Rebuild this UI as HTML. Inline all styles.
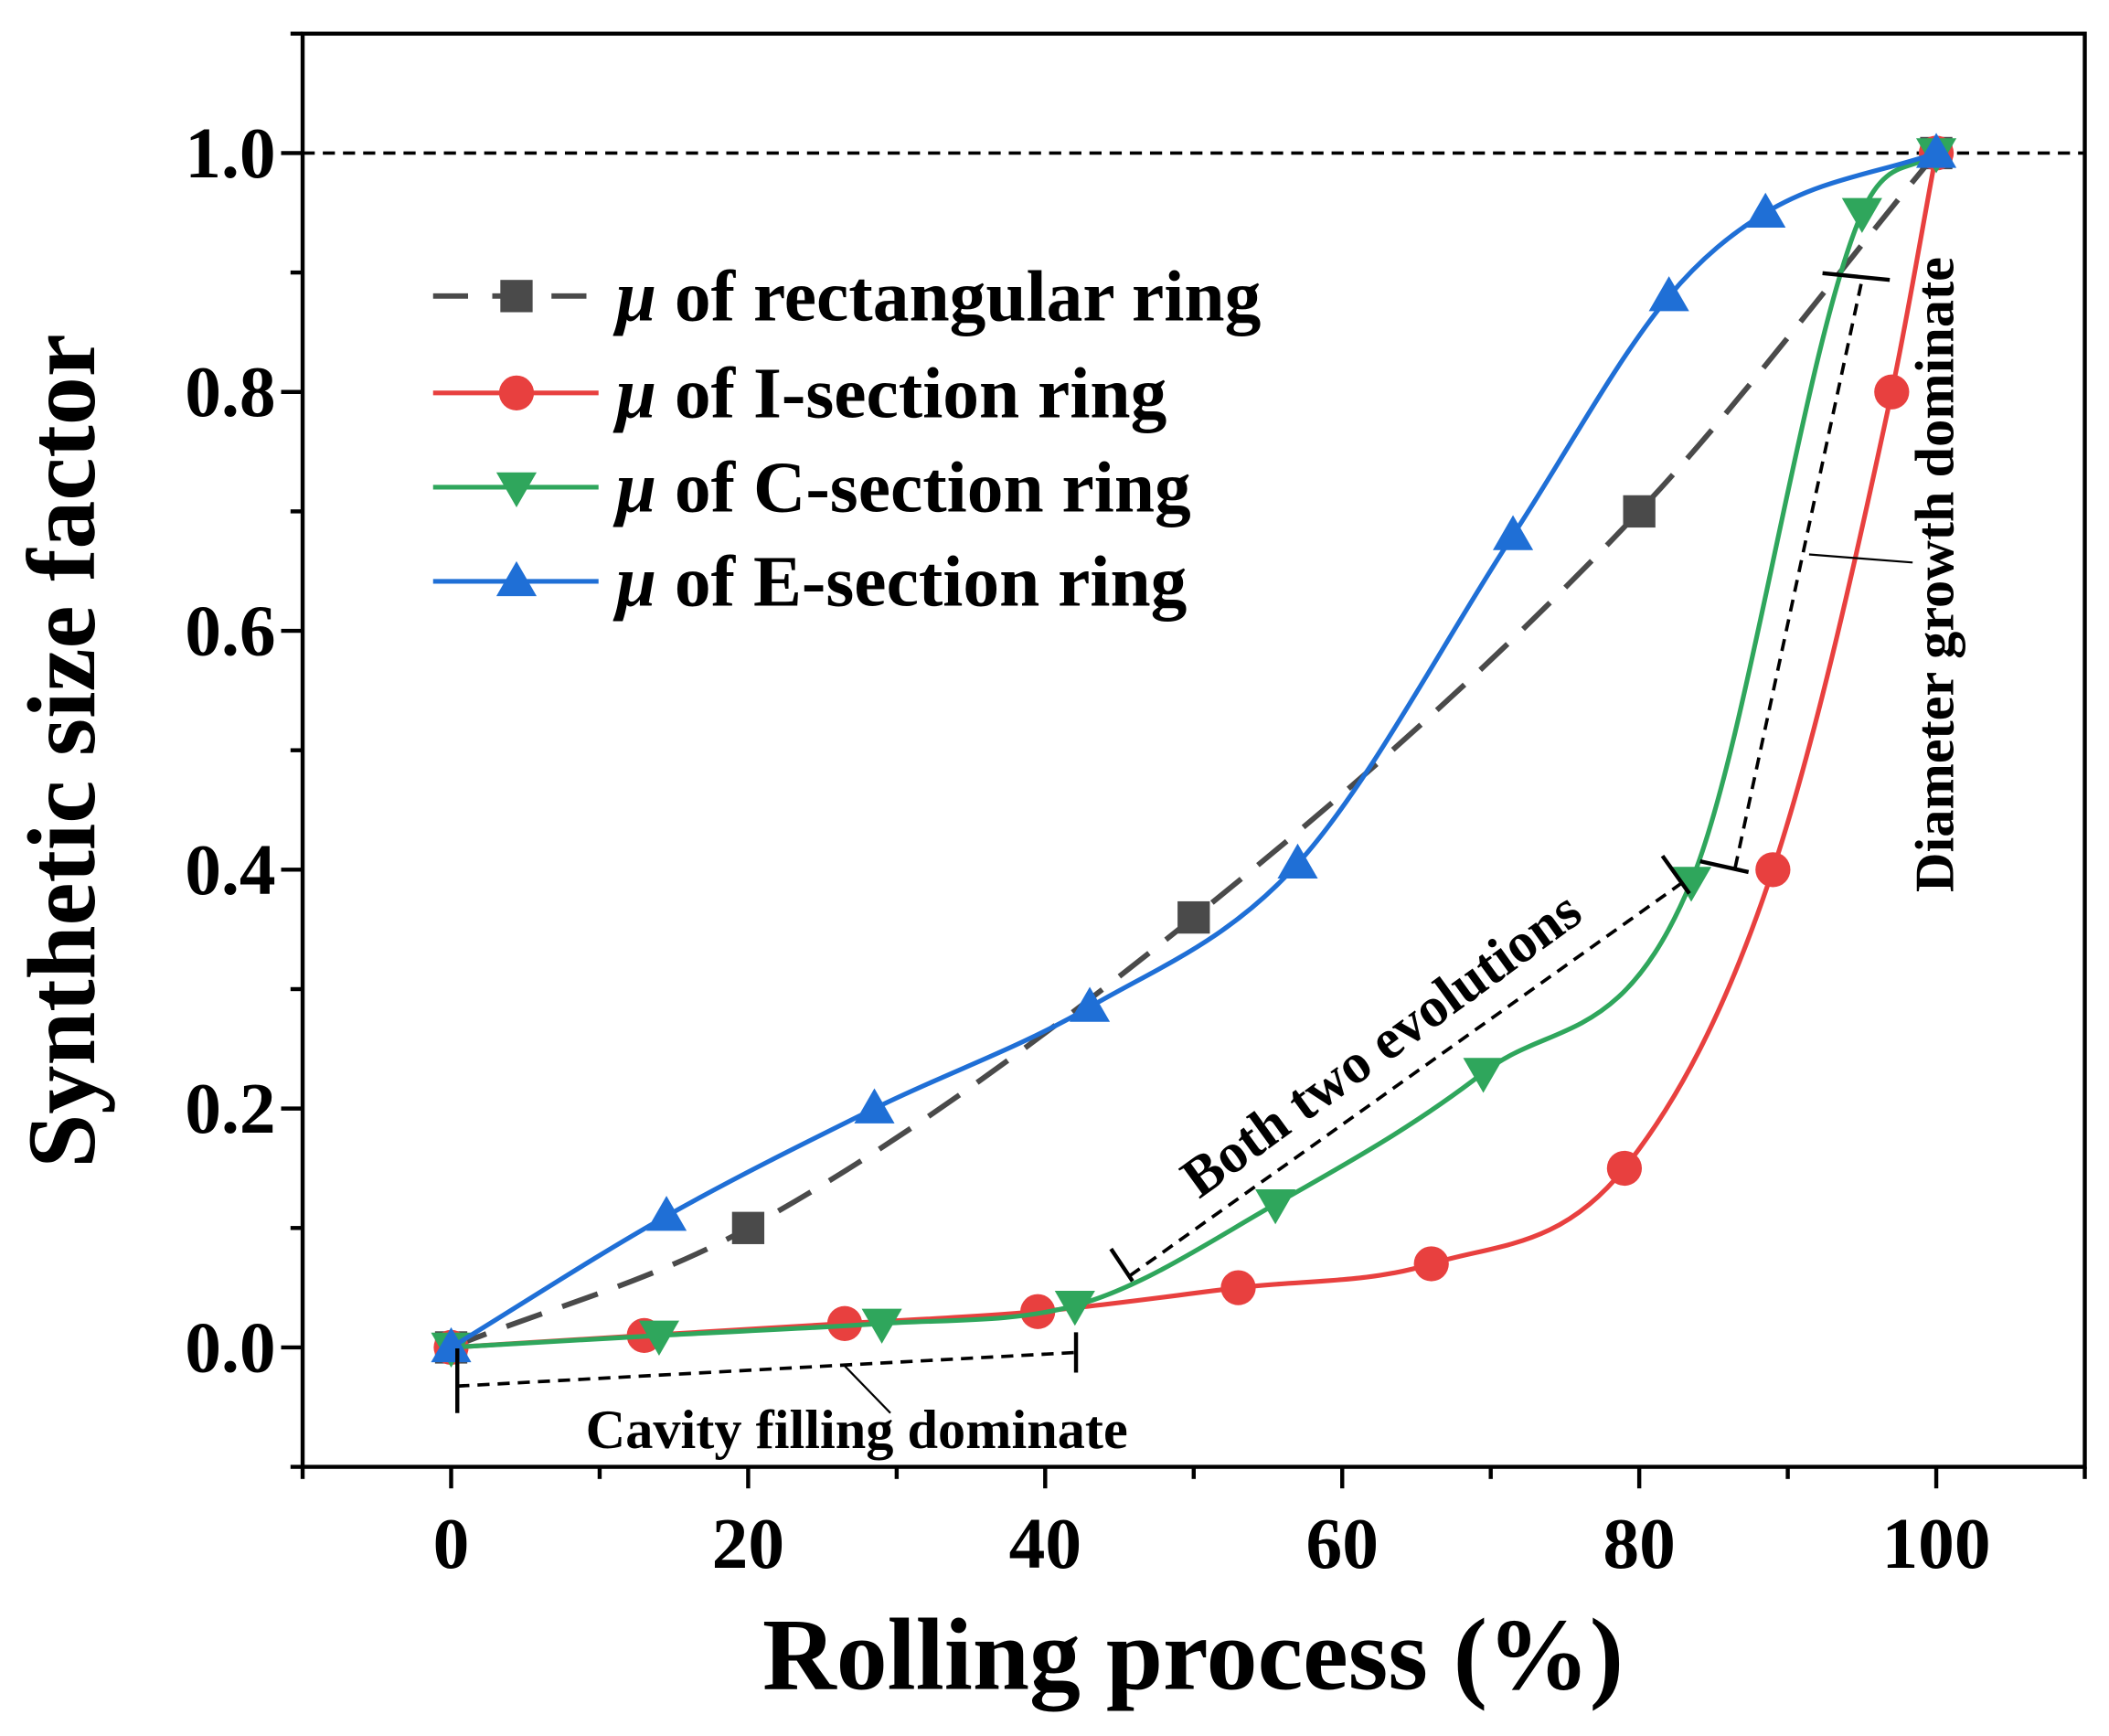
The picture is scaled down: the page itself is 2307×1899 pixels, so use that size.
<!DOCTYPE html>
<html><head><meta charset="utf-8"><style>
html,body{margin:0;padding:0;background:#fff;}
svg{display:block;font-family:"Liberation Serif",serif;font-weight:bold;}
</style></head><body>
<svg id="chart" width="2307" height="1899" viewBox="0 0 1568 1290" preserveAspectRatio="none" xmlns="http://www.w3.org/2000/svg">
<g id="plot"></g>
</svg>
<script>
const xTicks=[0,20,40,60,80,100];
const yTicks=[0.0,0.2,0.4,0.6,0.8,1.0];
const yTickLabels=["0.0","0.2","0.4","0.6","0.8","1.0"];
const rectX=[0,20,50,80,100];
const rectY=[0,0.1,0.36,0.7,1.0];
const iX=[0,13,26.5,39.5,53,66,79,89,97,100];
const iY=[0,0.01,0.02,0.03,0.05,0.07,0.15,0.4,0.8,1.0];
const cX=[0,14,29,42,55.5,69.5,83.5,95,100];
const cY=[0,0.01,0.02,0.035,0.12,0.23,0.39,0.95,1.0];
const eX=[0,14.5,28.5,43,57,71.5,82,88.5,100];
const eY=[0,0.11,0.2,0.285,0.405,0.68,0.88,0.95,1.0];

const L=225,R=1550,T=25,B=1090;
const X0=-10,X1=110,Y0=-0.1,Y1=1.1;
const sx=v=>L+(v-X0)/(X1-X0)*(R-L);
const sy=v=>B-(v-Y0)/(Y1-Y0)*(B-T);
const NS="http://www.w3.org/2000/svg";
const g=document.getElementById('plot');
function mk(tag,attrs,parent){const e=document.createElementNS(NS,tag);for(const k in attrs)e.setAttribute(k,attrs[k]);(parent||g).appendChild(e);return e;}

const frame=mk('rect',{x:L,y:T,width:R-L,height:B-T,fill:'none',stroke:'#000','stroke-width':3});


for(let v=-10;v<=110;v+=10){
  const major=v%20===0&&v>=0&&v<=100;
  const t=mk('line',{x1:sx(v),x2:sx(v),y1:B,y2:B+(major?16:9),stroke:'#000','stroke-width':3});
  
  
}
xTicks.forEach(v=>{
  const t=mk('text',{x:sx(v),y:1165,'text-anchor':'middle','font-size':54});
  t.textContent=v;
  
  
});
for(let k=-1;k<=11;k++){
  const v=k/10;const major=k%2===0&&k>=0&&k<=10;
  const t=mk('line',{x1:L,x2:L-(major?16:9),y1:sy(v),y2:sy(v),stroke:'#000','stroke-width':3});
  
  
}
yTicks.forEach((v,i)=>{
  const t=mk('text',{x:205,y:sy(v)+18,'text-anchor':'end','font-size':54});
  t.textContent=yTickLabels[i];
  
  
});
let at=mk('text',{x:887,y:1255,'text-anchor':'middle','font-size':76});
at.textContent='Rolling process (%)';


at=mk('text',{x:0,y:0,'text-anchor':'middle','font-size':72,transform:'translate(70,558) rotate(-90)'});
at.textContent='Synthetic size factor';


let rl=mk('line',{x1:L,x2:R,y1:sy(1),y2:sy(1),stroke:'#000','stroke-width':2.5,'stroke-dasharray':'9,6'});



// monotone cubic (Fritsch-Carlson)
function spline(xs,ys){
  const p=xs.map((x,i)=>[sx(x),sy(ys[i])]);
  const n=p.length,d=[],m=[];
  for(let i=0;i<n-1;i++)d.push((p[i+1][1]-p[i][1])/(p[i+1][0]-p[i][0]));
  m[0]=d[0];m[n-1]=d[n-2];
  for(let i=1;i<n-1;i++){m[i]=(d[i-1]*d[i]<=0)?0:(d[i-1]+d[i])/2;}
  for(let i=0;i<n-1;i++){
    if(d[i]===0){m[i]=0;m[i+1]=0;continue;}
    const a=m[i]/d[i],b=m[i+1]/d[i],s=a*a+b*b;
    if(s>9){const t=3/Math.sqrt(s);m[i]=t*a*d[i];m[i+1]=t*b*d[i];}
  }
  let path=`M${p[0][0]},${p[0][1]}`;
  for(let i=0;i<n-1;i++){
    const h=(p[i+1][0]-p[i][0])/3;
    path+=` C${p[i][0]+h},${p[i][1]+m[i]*h} ${p[i+1][0]-h},${p[i+1][1]-m[i+1]*h} ${p[i+1][0]},${p[i+1][1]}`;
  }
  return path;
}
function marker(type,x,y,color,parent){
  let e;
  if(type==='sq')e=mk('rect',{x:x-12,y:y-12,width:24,height:24,fill:color},parent);
  else if(type==='ci')e=mk('circle',{cx:x,cy:y,r:13,fill:color},parent);
  else if(type==='dn')e=mk('polygon',{points:`${x-15},${y-11} ${x+15},${y-11} ${x},${y+15}`,fill:color},parent);
  else e=mk('polygon',{points:`${x-15},${y+11} ${x+15},${y+11} ${x},${y-15}`,fill:color},parent);
  return e;
}
const series=[
  {n:'rectangular',xs:rectX,ys:rectY,c:'#4a4a4a',m:'sq',dash:'28,16',w:4},
  {n:'i-section',xs:iX,ys:iY,c:'#e8403f',m:'ci',dash:null,w:3.5},
  {n:'c-section',xs:cX,ys:cY,c:'#2fa65c',m:'dn',dash:null,w:3.5},
  {n:'e-section',xs:eX,ys:eY,c:'#1f6fd6',m:'up',dash:null,w:3.5}
];
series.forEach(s=>{
  const sg=mk('g',{});
  
  
  const a={d:spline(s.xs,s.ys),fill:'none',stroke:s.c,'stroke-width':s.w};
  if(s.dash)a['stroke-dasharray']=s.dash;
  const p=mk('path',a,sg);
  
  
  s.xs.forEach((x,i)=>{
    const m=marker(s.m,sx(x),sy(s.ys[i]),s.c,sg);
    
    
  });
});
const legLabels=[' of rectangular ring',' of I-section ring',' of C-section ring',' of E-section ring'];
const legY=[220,292,362,432];
series.forEach((s,i)=>{
  const lg=mk('g',{});
  
  
  const a={x1:322,x2:445,y1:legY[i],y2:legY[i],stroke:s.c,'stroke-width':s.w};
  if(s.dash)a['stroke-dasharray']='26,18';
  mk('line',a,lg);
  marker(s.m,384,legY[i],s.c,lg);
  const t=mk('text',{x:458,y:legY[i]+18,'font-size':54},lg);
  const mu=mk('tspan',{'font-style':'italic'},t);mu.textContent='μ';
  const rest=mk('tspan',{},t);rest.textContent=legLabels[i];
});
function ln(x1,y1,x2,y2,dash,w,name){const e=mk('line',{x1,y1,x2,y2,stroke:'#000','stroke-width':w||2.5});if(dash)e.setAttribute('stroke-dasharray',dash);}
ln(340,1030,800,1005,'9,6',2.5,'cavity-bracket');
ln(340,1002,340,1050,null,3,'cavity-bracket-end');
ln(800,990,800,1020,null,3,'cavity-bracket-end');
ln(628,1015,662,1050,null,1.5,'cavity-leader');
let tx=mk('text',{x:637,y:1076,'text-anchor':'middle','font-size':41});
tx.textContent='Cavity filling dominate';


ln(840,948,1252,655,'9,6',2.5,'evolution-bracket');
ln(826,928,842,952,null,3,'evolution-bracket-end');
ln(1236,636,1256,664,null,3,'evolution-bracket-end');
tx=mk('text',{x:0,y:0,'text-anchor':'middle','font-size':42,transform:'translate(1035,787) rotate(-36)'});
tx.textContent='Both two evolutions';


ln(1290,645,1385,205,'9,6',2.5,'diameter-bracket');
ln(1264,640,1300,648,null,3,'diameter-bracket-end');
ln(1355,203,1405,208,null,3,'diameter-bracket-end');
ln(1345,412,1422,418,null,1.5,'diameter-leader');
tx=mk('text',{x:0,y:0,'text-anchor':'middle','font-size':41,transform:'translate(1452,427) rotate(-90)'});
tx.textContent='Diameter growth dominate';


</script>
</body></html>
